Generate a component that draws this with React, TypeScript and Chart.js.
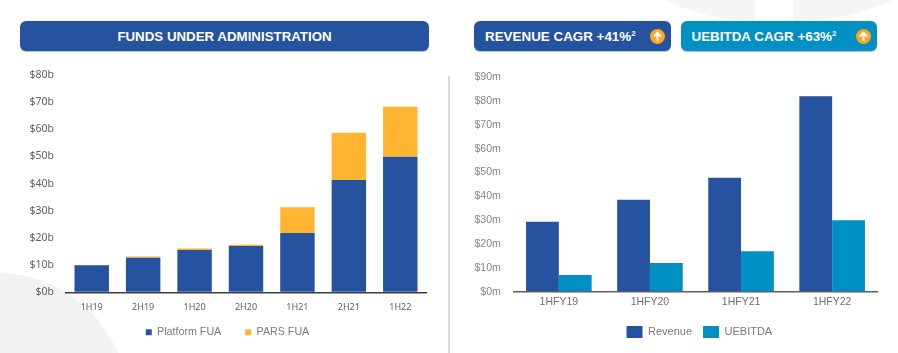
import React, { useEffect, useRef } from "react";
import { Chart, registerables } from "chart.js";

Chart.register(...registerables);

const fuaCategories = ["1H19", "2H19", "1H20", "2H20", "1H21", "2H21", "1H22"];
const platformFua = [10, 12.7, 15.6, 17, 21.8, 41.3, 49.9];
const parsFua = [0.05, 0.5, 0.5, 0.5, 9.5, 17.4, 18.4];
const fuaTicks = [0, 10, 20, 30, 40, 50, 60, 70, 80];

const revCategories = ["1HFY19", "1HFY20", "1HFY21", "1HFY22"];
const revenue = [29.4, 38.6, 47.8, 82];
const uebitda = [7, 12, 17, 30];

const BLUE = "#2553A0";
const TEAL = "#0090C4";
const AMBER = "#FFB531";

const shiftLegend = (dx: number, dy: number) => ({
  id: "shiftLegend",
  afterLayout(chart: any) {
    const l = chart.legend;
    if (!l) return;
    l.left += dx;
    l.right += dx;
    l.top += dy;
    l.bottom += dy;
  },
});

function FuaChart() {
  const ref = useRef<HTMLCanvasElement>(null);
  useEffect(() => {
    const chart = new Chart(ref.current!, {
      type: "bar",
      data: {
        labels: fuaCategories,
        datasets: [
          { label: "Platform FUA", data: platformFua, backgroundColor: BLUE, stack: "a" },
          { label: "PARS FUA", data: parsFua, backgroundColor: AMBER, stack: "a" },
        ],
      },
      plugins: [shiftLegend(14.5, -11.5)],
      options: {
        animation: false,
        responsive: false,
        layout: { padding: { top: 15, right: 23, bottom: 0, left: 0 } },
        datasets: { bar: { categoryPercentage: 0.67, barPercentage: 1 } },
        plugins: {
          tooltip: { enabled: false },
          legend: {
            position: "bottom",
            labels: {
              boxWidth: 6,
              boxHeight: 6,
              padding: 24,
              color: "#7a7a7a",
              font: { family: "Liberation Sans", size: 10.7 },
            },
          },
        },
        scales: {
          x: {
            stacked: true,
            afterFit: (s: any) => { s.height = 22; },
            grid: { display: false, drawTicks: false },
            border: { color: "#3c3c46", width: 1.5 },
            ticks: { color: "#606060", font: { family: "Noto Sans", size: 9 }, padding: 10, maxRotation: 0 },
          },
          y: {
            stacked: true,
            min: 0,
            max: 80,
            afterFit: (s: any) => { s.width = 66; },
            afterBuildTicks: (s: any) => { s.ticks = fuaTicks.map((value) => ({ value })); },
            grid: { display: true, drawOnChartArea: false, drawTicks: true, tickLength: 12, tickColor: "transparent", color: "transparent" },
            border: { display: false },
            ticks: {
              color: "#606060",
              font: { family: "Noto Sans", size: 10.5 },
              padding: 0,
              callback: (v: any) => `$${v}b`,
            },
          },
        },
      },
    });
    return () => chart.destroy();
  }, []);
  return <canvas ref={ref} width={449} height={299} style={{ position: "absolute", left: 0, top: 60 }} />;
}

function RevChart() {
  const ref = useRef<HTMLCanvasElement>(null);
  useEffect(() => {
    const chart = new Chart(ref.current!, {
      type: "bar",
      data: {
        labels: revCategories,
        datasets: [
          { label: "Revenue", data: revenue, backgroundColor: BLUE },
          { label: "UEBITDA", data: uebitda, backgroundColor: TEAL },
        ],
      },
      plugins: [shiftLegend(36, 0)],
      options: {
        animation: false,
        responsive: false,
        layout: { padding: { top: 17.3, right: 20.3, bottom: 5, left: 0 } },
        datasets: { bar: { categoryPercentage: 0.72, barPercentage: 1 } },
        plugins: {
          tooltip: { enabled: false },
          legend: {
            position: "bottom",
            labels: {
              boxWidth: 16,
              boxHeight: 12,
              padding: 11,
              color: "#7a7a7a",
              font: { family: "Liberation Sans", size: 11 },
            },
          },
        },
        scales: {
          x: {
            afterFit: (s: any) => { s.height = 23.3; },
            grid: { display: false, drawTicks: false },
            border: { color: "#5f5f5f", width: 1.5 },
            ticks: { color: "#6e6e6e", font: { family: "Liberation Sans", size: 10.5 }, padding: 4, maxRotation: 0 },
          },
          y: {
            min: 0,
            max: 90,
            afterFit: (s: any) => { s.width = 64.3; },
            grid: { display: true, drawOnChartArea: false, drawTicks: true, tickLength: 12.5, tickColor: "transparent", color: "transparent" },
            border: { display: false },
            ticks: {
              stepSize: 10,
              color: "#858585",
              font: { family: "Liberation Sans", size: 10.5 },
              padding: 0,
              callback: (v: any) => `$${v}m`,
            },
          },
        },
      },
    });
    return () => chart.destroy();
  }, []);
  return <canvas ref={ref} width={449} height={293} style={{ position: "absolute", left: 449, top: 60 }} />;
}

const bannerStyle: React.CSSProperties = {
  position: "absolute",
  top: 21,
  height: 30,
  boxSizing: "border-box",
  borderRadius: 6,
  color: "#fff",
  fontFamily: "Liberation Sans",
  fontWeight: 700,
  display: "flex",
  alignItems: "center",
  paddingTop: 1,
  boxShadow: "0 1px 0 #a9c1e6",
};

function Arrow({ left }: { left: number }) {
  return (
    <svg width={15} height={15} viewBox="0 0 15 15" style={{ position: "absolute", left, top: 7.5 }}>
      <circle cx={7.5} cy={7.5} r={7.5} fill="#FFA51E" />
      <path d="M7.5 12V4M4 7.5L7.5 3.8L11 7.5" stroke="#fff" strokeWidth={2} fill="none" />
    </svg>
  );
}

function Sup() {
  return <sup style={{ fontSize: 8, lineHeight: 0, verticalAlign: 5 }}>2</sup>;
}

export default function App() {
  return (
    <div style={{ position: "fixed", left: 0, top: 0, width: 898, height: 353, overflow: "hidden", background: "#fff" }}>
      <svg width={898} height={353} style={{ position: "absolute", left: 0, top: 0 }}>
        <circle cx={-2.5} cy={404} r={131} fill="#f3f3f3" />
        <path d="M665 0 Q705 20 755 21 L755 0 Z" fill="#f5f5f5" />
        <path d="M793 0 L793 21 Q850 20 893 0 Z" fill="#f5f5f5" />
      </svg>
      <div style={{ position: "absolute", left: 448, top: 76, width: 2, height: 277, background: "#dcdcdc" }} />
      <div style={{ ...bannerStyle, left: 20, width: 409, background: BLUE, justifyContent: "center", fontSize: 13.3 }}>
        FUNDS UNDER ADMINISTRATION
      </div>
      <div style={{ ...bannerStyle, left: 474, width: 197, background: BLUE, paddingLeft: 11, fontSize: 13.4 }}>
        <span>REVENUE CAGR +41%<Sup /></span>
        <Arrow left={176} />
      </div>
      <div style={{ ...bannerStyle, left: 680.5, width: 196.5, background: TEAL, paddingLeft: 11, fontSize: 13.4 }}>
        <span>UEBITDA CAGR +63%<Sup /></span>
        <Arrow left={175} />
      </div>
      <FuaChart />
      <RevChart />
    </div>
  );
}
